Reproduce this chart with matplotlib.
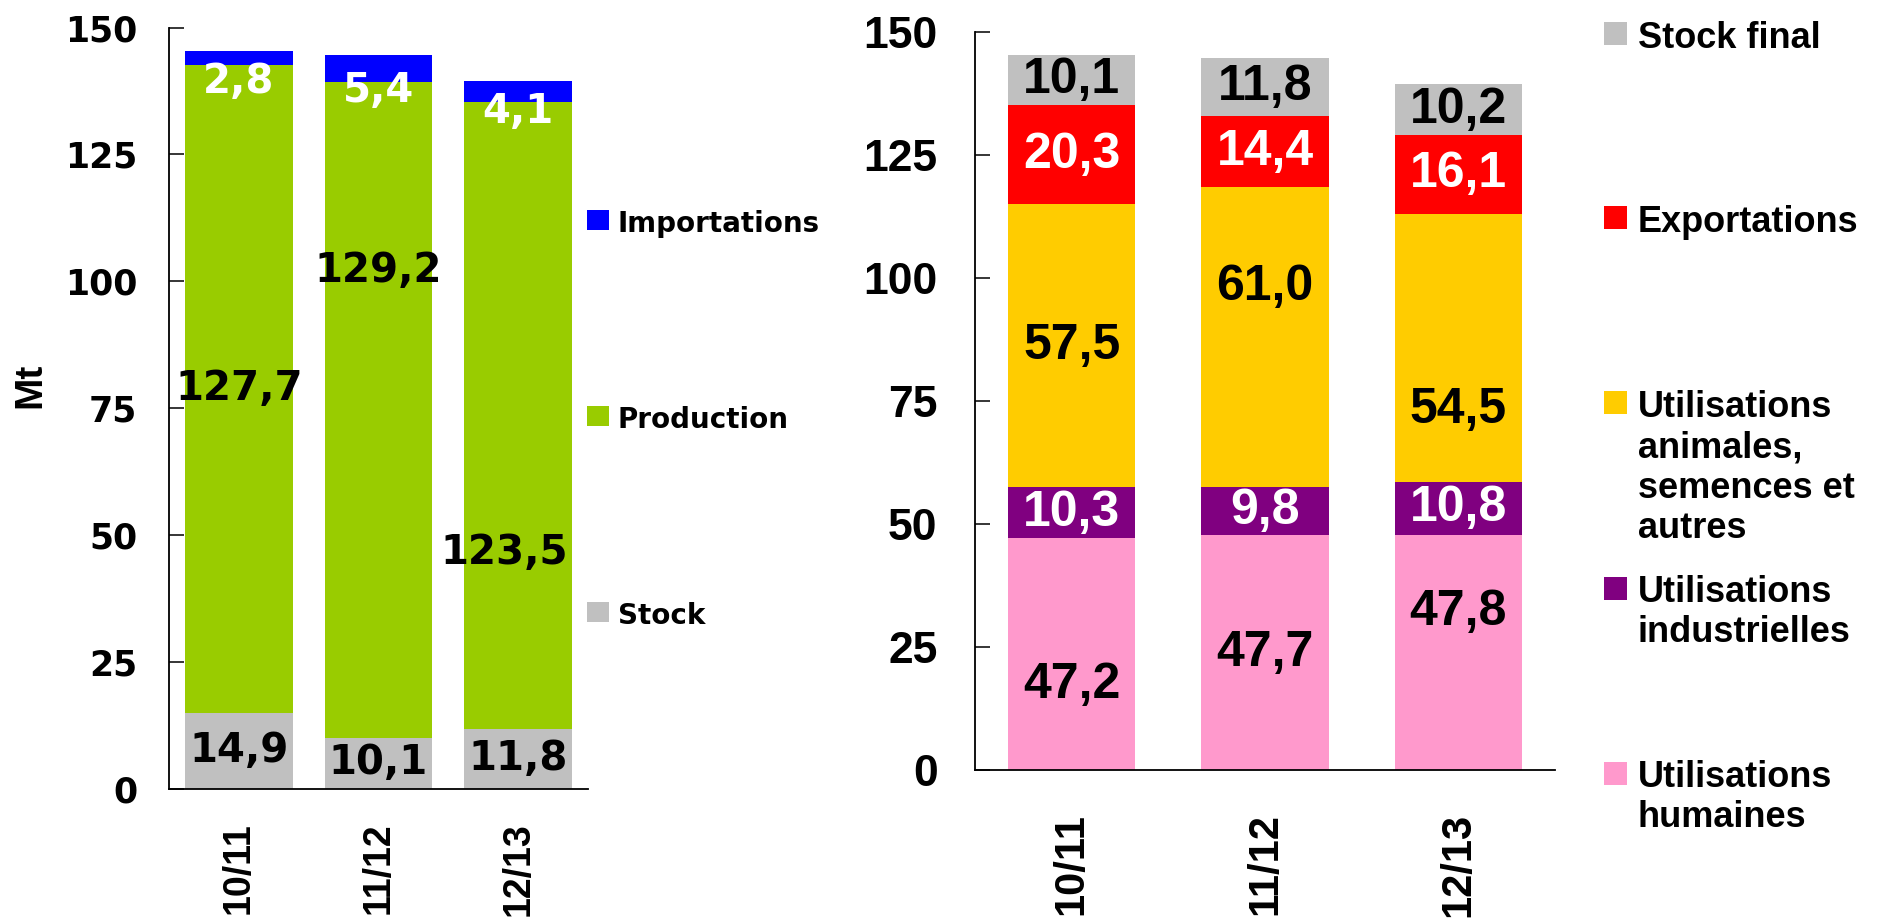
import matplotlib.pyplot as plt
from matplotlib.patches import Rectangle

plt.rcParams['font.family'] = ['Liberation Sans', 'DejaVu Sans']
plt.rcParams['font.weight'] = 'bold'

W, H = 1888, 921

# campagnes
campagnes = ['10/11', '11/12', '12/13']
yticks = [0, 25, 50, 75, 100, 125, 150]

# ressources (Mt)
stock = [14.9, 10.1, 11.8]
production = [127.7, 129.2, 123.5]
importations = [2.8, 5.4, 4.1]

# emplois (Mt)
util_humaines = [47.2, 47.7, 47.8]
util_industrielles = [10.3, 9.8, 10.8]
util_animales = [57.5, 61.0, 54.5]
exportations = [20.3, 14.4, 16.1]
stock_final = [10.1, 11.8, 10.2]

# positions des etiquettes déplacées à la main dans l'original (None = centré)
prod_lab_y = [None, 102.0, 46.5]
prod_lab_dx = [0, 0, -0.1]
imp_lab_y = [139.3, 137.5, 133.4]
hum_lab_y = [17.3, None, 32.1]
ani_lab_y = [None, 98.2, 73.2]


def fx(x):
    return x / W


def fy(y):
    return 1 - y / H


def fmt(v):
    return f'{v:.1f}'.replace('.', ',')


fig = plt.figure(figsize=(W / 100, H / 100), dpi=100)

ax1 = fig.add_axes([fx(169), fy(789), (588 - 169) / W, (789 - 27.6) / H])
ax2 = fig.add_axes([fx(975), fy(770), (1555 - 975) / W, (770 - 32.3) / H])

x = list(range(len(campagnes)))

# ---------- graphique de gauche : ressources ----------
left_series = [
    (stock, '#C0C0C0', 'black', None, None),
    (production, '#99CC00', 'black', prod_lab_y, prod_lab_dx),
    (importations, '#0000FF', 'white', imp_lab_y, None),
]
bottom = [0, 0, 0]
for vals, col, tcol, laby, labdx in left_series:
    ax1.bar(x, vals, 0.77, bottom=bottom, color=col, linewidth=0)
    for i, v in enumerate(vals):
        yy = bottom[i] + v / 2 if (laby is None or laby[i] is None) else laby[i]
        xx = x[i] + (labdx[i] if labdx else 0)
        ax1.text(xx, yy, fmt(v), ha='center', va='center', color=tcol,
                 fontsize=29, fontweight='bold', family='DejaVu Sans')
    bottom = [b + v for b, v in zip(bottom, vals)]

# ---------- graphique de droite : emplois ----------
right_series = [
    (util_humaines, '#FF99CC', 'black', hum_lab_y),
    (util_industrielles, '#800080', 'white', None),
    (util_animales, '#FFCC00', 'black', ani_lab_y),
    (exportations, '#FF0000', 'white', None),
    (stock_final, '#C0C0C0', 'black', None),
]
bottom = [0, 0, 0]
for vals, col, tcol, laby in right_series:
    ax2.bar(x, vals, 0.66, bottom=bottom, color=col, linewidth=0)
    for i, v in enumerate(vals):
        yy = bottom[i] + v / 2 if (laby is None or laby[i] is None) else laby[i]
        ax2.text(x[i], yy, fmt(v), ha='center', va='center', color=tcol,
                 fontsize=36, fontweight='bold')
    bottom = [b + v for b, v in zip(bottom, vals)]

# axes
for ax in (ax1, ax2):
    ax.set_xlim(-0.5, 2.5)
    ax.set_ylim(0, 150)
    for s in ('top', 'right'):
        ax.spines[s].set_visible(False)
    for s in ('left', 'bottom'):
        ax.spines[s].set_linewidth(1.3)
    ax.tick_params(axis='y', direction='in', length=11, width=1.1)
    ax.tick_params(axis='x', length=0)

ax1.set_yticks(yticks, [str(t) for t in yticks], fontsize=25, family='DejaVu Sans', fontweight='bold')
ax1.tick_params(axis='y', pad=23)
ax1.set_xticks(x, campagnes, rotation=90, fontsize=27, fontweight='bold')
ax1.tick_params(axis='x', pad=24)
ax1.set_ylabel('Mt', fontsize=28, fontweight='bold')
ax1.yaxis.set_label_coords((48 - 169) / (588 - 169), 0.53)

ax2.set_yticks(yticks, [str(t) for t in yticks], fontsize=32, fontweight='bold')
ax2.tick_params(axis='y', pad=27)
ax2.set_xticks(x, campagnes, rotation=90, fontsize=30, fontweight='bold')
ax2.tick_params(axis='x', pad=31)

# ---------- légendes ----------
def legend_entry(bx, cy, bw, bh, color, label, tx, fsize, family, cap):
    fig.add_artist(Rectangle((fx(bx), fy(cy + bh / 2)), bw / W, bh / H,
                             transform=fig.transFigure, color=color, linewidth=0))
    fig.text(fx(tx), fy(cy - cap / 2), label, ha='left', va='top',
             fontsize=fsize, fontweight='bold', family=family)


left_legend = [('Importations', '#0000FF', 220), ('Production', '#99CC00', 416),
               ('Stock', '#C0C0C0', 612)]
for lab, col, cy in left_legend:
    legend_entry(587, cy, 22, 20, col, lab, 618, 20, 'DejaVu Sans', 20)

right_legend = [('Stock final', '#C0C0C0', 34), ('Exportations', '#FF0000', 218),
                ('Utilisations\nanimales,\nsemences et\nautres', '#FFCC00', 403),
                ('Utilisations\nindustrielles', '#800080', 588),
                ('Utilisations\nhumaines', '#FF99CC', 773)]
for lab, col, cy in right_legend:
    legend_entry(1604, cy, 23, 23, col, lab, 1638, 26, ['Liberation Sans', 'DejaVu Sans'], 26)

fig.savefig('out.png', dpi=100, facecolor='white')
